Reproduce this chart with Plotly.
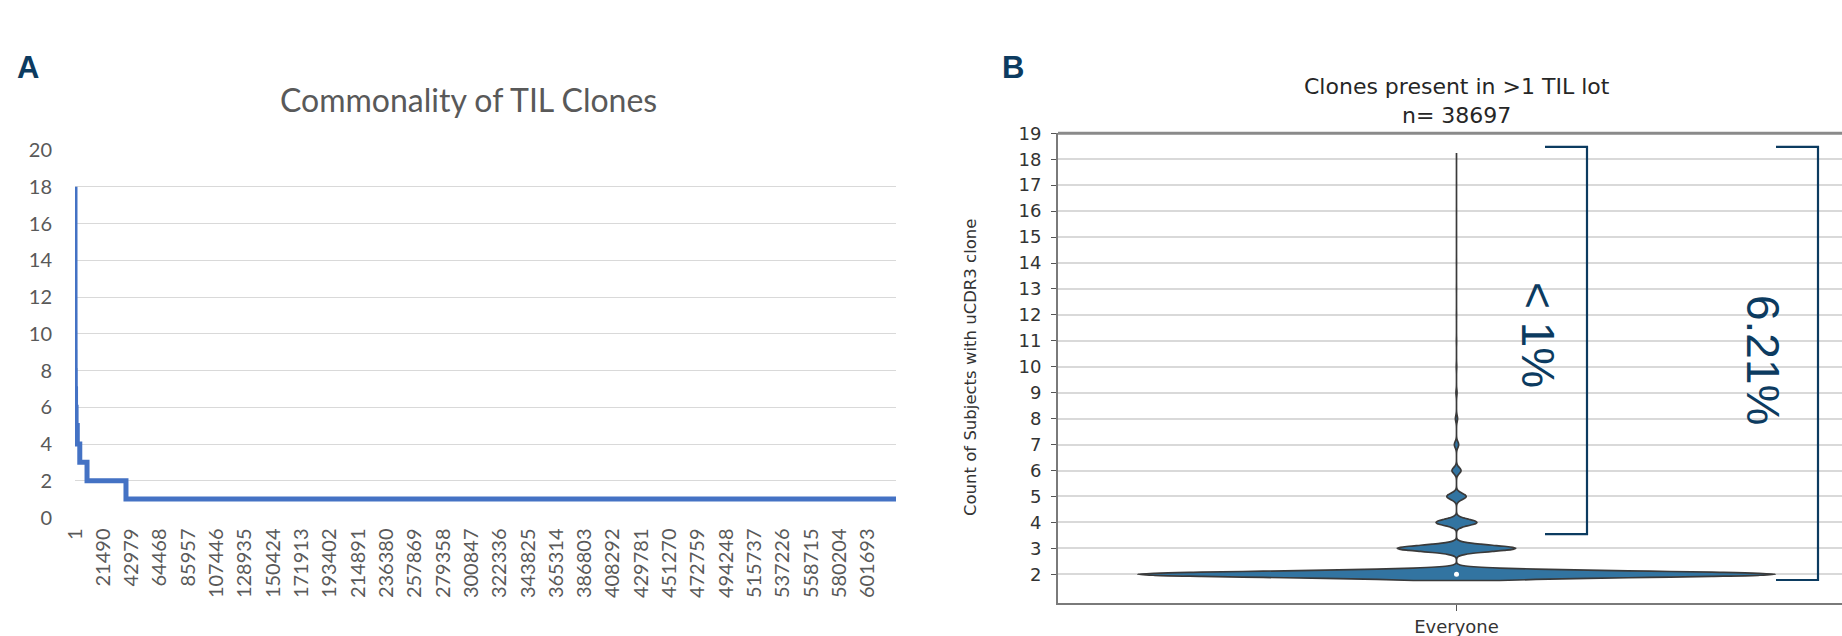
import numpy as np
import plotly.graph_objects as go

# ---------------------------------------------------------------------------
# Data
# ---------------------------------------------------------------------------
# Number of subjects (TIL lots) sharing a uCDR3 clone, and how many clones
# fall in each of those commonality levels.
subjects_per_clone = [2, 3, 4, 5, 6, 7, 8, 9, 10, 11, 12, 13, 14, 15, 16, 17, 18]
clone_counts = [29568, 5500, 1900, 900, 420, 200, 100, 50, 25, 13, 8, 5, 3, 2, 1, 1, 1]
private_clones = 584443          # clones seen in a single subject only

# Category labels printed on the clone-rank axis of panel A
rank_tick_labels = [
    "1", "21490", "42979", "64468", "85957", "107446", "128935", "150424",
    "171913", "193402", "214891", "236380", "257869", "279358", "300847",
    "322336", "343825", "365314", "386803", "408292", "429781", "451270",
    "472759", "494248", "515737", "537226", "558715", "580204", "601693",
]

# ---------------------------------------------------------------------------
# Derived quantities
# ---------------------------------------------------------------------------
shared_total = int(sum(clone_counts))
all_clones = shared_total + private_clones
rare_total = sum(c for s, c in zip(subjects_per_clone, clone_counts) if s >= 4)
shared_pct = shared_total / all_clones * 100
rare_pct = rare_total / all_clones * 100
rare_label = "< 1%" if rare_pct < 1 else f"{rare_pct:.2f}%"
shared_label = f"{shared_pct:.2f}%"

# Panel A: clones ranked by commonality, drawn as a step line
levels_desc = list(reversed(subjects_per_clone)) + [1]
counts_desc = list(reversed(clone_counts)) + [private_clones]
block_start = np.concatenate([[1], 1 + np.cumsum(counts_desc)[:-1]])
step_x = list(block_start) + [all_clones]
step_y = levels_desc + [1]

# Panel B: one observation per shared clone
violin_values = np.repeat(subjects_per_clone, clone_counts)
median_value = float(np.median(violin_values))

# ---------------------------------------------------------------------------
# Figure geometry (pixels)
# ---------------------------------------------------------------------------
W, H = 1842, 636


def px(x):
    return x / W


def py(y):
    return 1 - y / H


NAVY = "#0c3b60"
EXCEL_GREY = "#595959"
EXCEL_FONT = "Lato, Carlito, sans-serif"
fig = go.Figure()

# Panel A line
fig.add_trace(go.Scatter(
    x=step_x, y=step_y, mode="lines", line_shape="hv",
    line=dict(color="#4472C4", width=5),
    xaxis="x", yaxis="y", hoverinfo="skip", showlegend=False,
))

# Panel B violin
fig.add_trace(go.Violin(
    y=violin_values, x0="Everyone", name="Everyone",
    bandwidth=0.12, spanmode="soft", width=0.8, scalemode="width",
    fillcolor="#3274a1", line=dict(color="#3a3a3a", width=1.7),
    points=False, box_visible=False, meanline_visible=False,
    xaxis="x2", yaxis="y2", hoverinfo="skip", showlegend=False,
))
fig.add_trace(go.Scatter(
    x=["Everyone"], y=[median_value], mode="markers",
    marker=dict(color="white", size=5, line=dict(width=0)),
    xaxis="x2", yaxis="y2", hoverinfo="skip", showlegend=False,
))

tick_vals = [int(t) for t in rank_tick_labels]

fig.update_layout(
    width=W, height=H,
    margin=dict(l=0, r=0, t=0, b=0, autoexpand=False),
    paper_bgcolor="white", plot_bgcolor="white",
    showlegend=False,
    xaxis=dict(
        domain=[px(75), px(896)], anchor="y", automargin=False,
        range=[1, all_clones],
        tickmode="array", tickvals=tick_vals, ticktext=rank_tick_labels,
        tickangle=-90, ticks="", showgrid=False, zeroline=False, showline=False,
        tickfont=dict(family=EXCEL_FONT, size=20, color=EXCEL_GREY),
        ticklabelstandoff=6,
    ),
    yaxis=dict(
        domain=[py(517.5), py(150)], anchor="x", automargin=False,
        range=[0, 20], dtick=2, tick0=0,
        showgrid=True, gridcolor="#d9d9d9", gridwidth=1.3,
        zeroline=False, showline=False, ticks="",
        tickfont=dict(family=EXCEL_FONT, size=20, color=EXCEL_GREY),
        ticklabelstandoff=22,
    ),
    xaxis2=dict(
        domain=[px(1058), 1], anchor="y2", type="category", automargin=False,
        range=[-0.5, -0.5 + (W - 1058) / 797],
        showgrid=False, zeroline=False,
        showline=True, linecolor="#7a7a7a", linewidth=1.8, mirror=False,
        ticks="outside", ticklen=6, tickwidth=1.4, tickcolor="#555555",
        tickfont=dict(family="DejaVu Sans", size=18, color="#333333"),
    ),
    yaxis2=dict(
        domain=[py(603), py(133.3)], anchor="x2", automargin=False,
        range=[0.893, 19], tickmode="array", tickvals=list(range(2, 20)),
        showgrid=True, gridcolor="#d9d9d9", gridwidth=2,
        zeroline=False, showline=True, linecolor="#7a7a7a", linewidth=1.8,
        ticks="outside", ticklen=5, tickwidth=1.4, tickcolor="#555555",
        tickfont=dict(family="DejaVu Sans", size=18, color="#333333"),
        ticklabelstandoff=6,
    ),
)

# Top frame line of panel B
fig.add_shape(type="line", xref="paper", yref="paper",
              x0=px(1058), x1=1, y0=py(133.3), y1=py(133.3),
              line=dict(color="#8a8a8a", width=3))

# Brackets on panel B
bracket_style = dict(color=NAVY, width=2.2)
for x_in, x_out, y_top, y_bot in [(1545, 1587, 18.48, 3.55), (1776, 1818, 18.48, 1.78)]:
    fig.add_shape(type="path", xref="paper", yref="y2",
                  path=(f"M {px(x_in)},{y_top} L {px(x_out)},{y_top} "
                        f"L {px(x_out)},{y_bot} L {px(x_in)},{y_bot}"),
                  line=bracket_style)

annotations = [
    dict(text="<b>A</b>", x=px(15), y=py(67.5), xanchor="left", yanchor="middle",
         font=dict(family="Liberation Sans", size=31, color=NAVY)),
    dict(text="<b>B</b>", x=px(1000), y=py(67.5), xanchor="left", yanchor="middle",
         font=dict(family="Liberation Sans", size=31, color=NAVY)),
    dict(text="Commonality of TIL Clones", x=px(468), y=py(100), xanchor="center",
         yanchor="middle", font=dict(family=EXCEL_FONT, size=32, color=EXCEL_GREY)),
    dict(text=f"Clones present in >1 TIL lot<br>n= {shared_total}", x=px(1457), y=py(101),
         xanchor="center", yanchor="middle",
         font=dict(family="DejaVu Sans", size=22, color="#262626")),
    dict(text="Count of Subjects with uCDR3 clone", x=px(970), y=py(368), textangle=-90,
         xanchor="center", yanchor="middle",
         font=dict(family="DejaVu Sans", size=16.5, color="#333333")),
    dict(text=rare_label, x=px(1538), y=py(335), textangle=90, xanchor="center",
         yanchor="middle", font=dict(family="Liberation Sans", size=46, color=NAVY)),
    dict(text=shared_label, x=px(1763), y=py(360), textangle=90, xanchor="center",
         yanchor="middle", font=dict(family="Liberation Sans", size=46, color=NAVY)),
]
for a in annotations:
    a.update(xref="paper", yref="paper", showarrow=False)
fig.update_layout(annotations=annotations)

fig.write_html("out.html", config={"displayModeBar": False})
